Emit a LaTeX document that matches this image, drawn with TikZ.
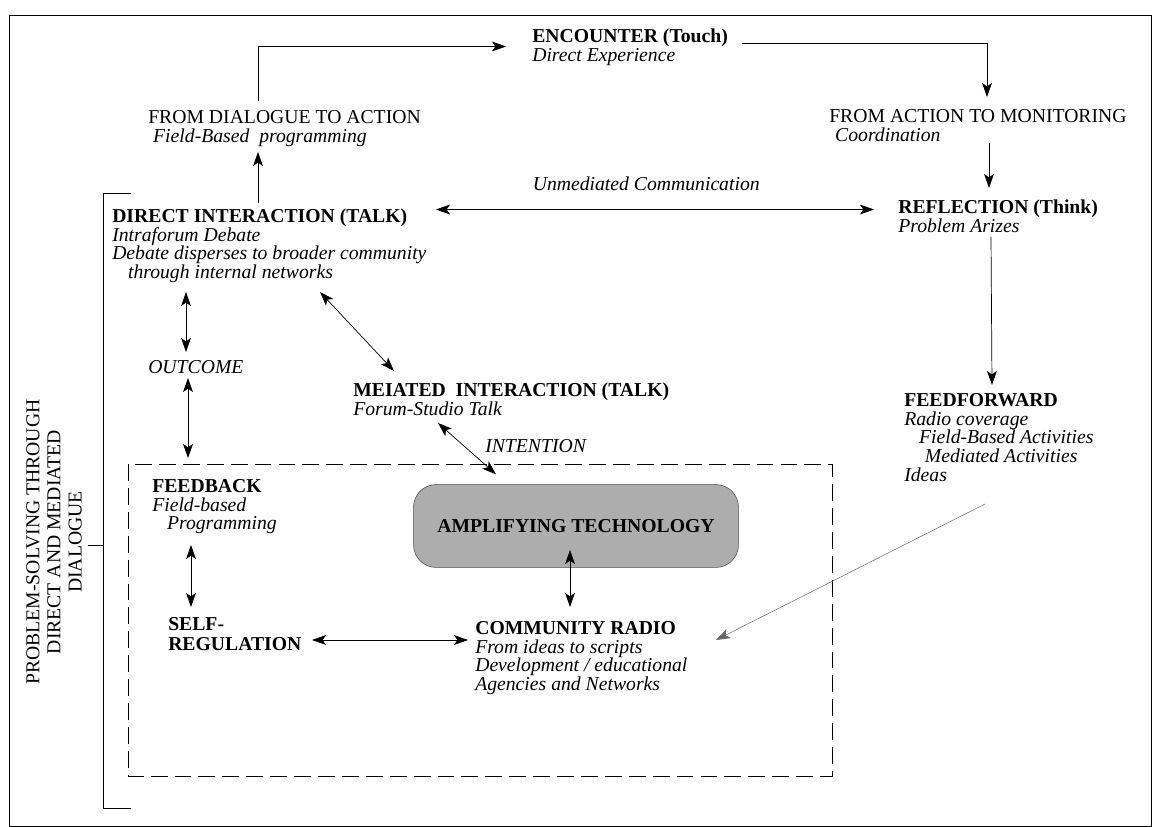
\documentclass[tikz,border=0pt]{standalone}
\usepackage{fontspec}
\setmainfont{Liberation Serif}
\usepackage{tikz}
\usetikzlibrary{arrows.meta, positioning, calc}
\definecolor{ampfill}{gray}{0.68}
\definecolor{ampline}{gray}{0.3}
\tikzstyle{block} = [anchor=north west, align=left, inner sep=0pt,
    font=\fontsize{14}{13.2}\selectfont]
\tikzstyle{tag} = [inner sep=0pt, font=\fontsize{14}{13.2}\selectfont\itshape]
\tikzstyle{tech} = [draw=ampline, fill=ampfill, rounded corners=16pt,
    minimum width=8.12cm, minimum height=2.07cm,
    font=\fontsize{14}{14}\selectfont\bfseries]
\tikzstyle{conn} = [line width=0.5pt, ->]
\tikzstyle{biconn} = [line width=0.5pt, <->]
\tikzstyle{frame} = [line width=0.6pt]
\newcommand{\headline}[1]{\textbf{#1}}
\newcommand{\subline}[1]{\textit{#1}}

\begin{document}
\begin{tikzpicture}[x=0.025cm, y=-0.025cm, >={Stealth[length=10pt, width=7pt, inset=2.5pt]}]
    \useasboundingbox (0,0) rectangle (1156,827);
    \draw [frame] (9,15) rectangle (1151,826);
    \draw [frame] (131,193) -- (103,193) -- (103,808) -- (131,808) (103,545) -- (88,545);
    \draw [frame, dash pattern=on 12pt off 5pt] (128,464) rectangle (832,776);

    \node [block] (encounter) at (532,28.5) {\headline{ENCOUNTER (Touch)}\\\subline{Direct Experience}};
    \node [block] (dialogue) at (148,110.5) {FROM DIALOGUE TO ACTION\\\hspace*{0.25em}\subline{Field-Based\ \ programming}};
    \node [block] (monitoring) at (829,109.5) {FROM ACTION TO MONITORING\\\hspace*{0.3em}\subline{Coordination}};
    \node [block] (reflection) at (898,199.5) {\headline{REFLECTION (Think)}\\\subline{Problem Arizes}};
    \node [block] (direct) at (112,208.5) {\headline{DIRECT INTERACTION (TALK)}\\\subline{Intraforum Debate}\\
        \subline{Debate disperses to broader community}\\\hspace*{0.8em}\subline{through internal networks}};
    \node [block] (feedforward) at (904,393.5) {\headline{FEEDFORWARD}\\\subline{Radio coverage}\\
        \hspace*{0.75em}\subline{Field-Based Activities}\\\hspace*{1.05em}\subline{Mediated Activities}\\\subline{Ideas}};
    \node [tag, anchor=base west] (outcome) at (148,373) {OUTCOME};
    \node [block] (mediated) at (353,382.5) {\headline{MEIATED\ \ INTERACTION (TALK)}\\\subline{Forum-Studio Talk}};
    \node [tag, anchor=base west] (intention) at (485,452) {INTENTION};
    \node [block] (feedback) at (152,479.5) {\headline{FEEDBACK}\\\subline{Field-based}\\\hspace*{0.75em}\subline{Programming}};
    \node [tech] (tech) at (576,526) {AMPLIFYING TECHNOLOGY};
    \node [block, font=\fontsize{14}{14}\selectfont\bfseries] (selfreg) at (168,617.5) {SELF-\\REGULATION};
    \node [block] (radio) at (475,621.5) {\headline{COMMUNITY RADIO}\\\subline{From ideas to scripts}\\
        \subline{Development / educational}\\\subline{Agencies and Networks}};
    \node [align=center, rotate=90, inner sep=0pt, font=\fontsize{14}{15}\selectfont] (side) at (54,542)
        {PROBLEM-SOLVING THROUGH\\DIRECT AND MEDIATED\\DIALOGUE};

    \draw [conn] ([shift={(110,-9)}]dialogue.north west) |- ([shift={(-26,18)}]encounter.north west);
    \draw [conn] ([shift={(146,-6)}]direct.north west) -- ([shift={(110,41.5)}]dialogue.north west);
    \draw [conn] ([shift={(210,14.5)}]encounter.north west) -| ([shift={(158,-12.5)}]monitoring.north west);
    \draw [conn] ([shift={(160,33.5)}]monitoring.north west) -- ([shift={(91,-11.5)}]reflection.north west);
    \draw [conn] ([shift={(93,37.5)}]reflection.north west) -- ([shift={(88,-8.5)}]feedforward.north west);
    \draw [conn, line width=0.35pt, draw=black!60] ([shift={(81,110.5)}]feedforward.north west) -- ([shift={(241,18.5)}]radio.north west);
    \draw [biconn] ([shift={(324,1)}]direct.north west) -- node [tag, above=13pt, pos=0.48] (unmediated) {Unmediated Communication}
        ([shift={(-24,10)}]reflection.north west);
    \draw [biconn] ([shift={(74,83.5)}]direct.north west) -- ([shift={(38,-21)}]outcome.base west);
    \draw [biconn] ([shift={(40,5)}]outcome.base west) -- ([shift={(36,-21.5)}]feedback.north west);
    \draw [biconn] ([shift={(208,83.5)}]direct.north west) -- ([shift={(41,-11.5)}]mediated.north west);
    \draw [biconn] ([shift={(85,40.5)}]mediated.north west) -- ([shift={(-80,-10)}]tech.north);
    \draw [biconn] ([shift={(39,65.5)}]feedback.north west) -- ([shift={(23,-10.5)}]selfreg.north west);
    \draw [biconn] ([shift={(144,22.5)}]selfreg.north west) -- ([shift={(-7,18.5)}]radio.north west);
    \draw [biconn] ([shift={(-6,24)}]tech.center) -- ([shift={(95,-14.5)}]radio.north west);
\end{tikzpicture}
\end{document}
